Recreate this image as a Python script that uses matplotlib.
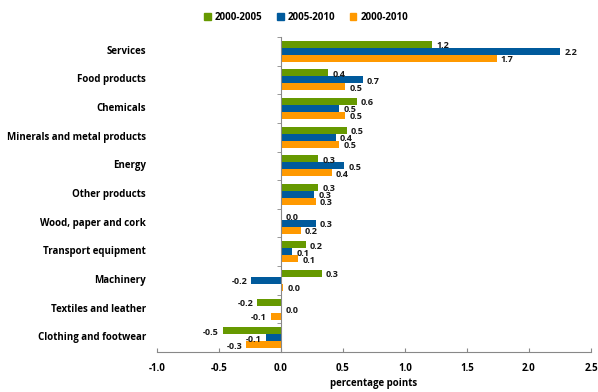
import numpy as np
import matplotlib
matplotlib.use('Agg')
from matplotlib import pyplot as plt
from matplotlib.patches import Patch
from matplotlib.transforms import blended_transform_factory

plt.rcParams['font.family'] = ['Open Sans', 'DejaVu Sans']
plt.rcParams['font.weight'] = 'bold'

# sectors, top to bottom
sectors = ['Services', 'Food products', 'Chemicals', 'Minerals and metal products',
           'Energy', 'Other products', 'Wood, paper and cork', 'Transport equipment',
           'Machinery', 'Textiles and leather', 'Clothing and footwear']

# contributions (percentage points)
p2000_2005 = [1.22, 0.38, 0.61, 0.53, 0.30, 0.30, 0.005, 0.20, 0.33, -0.19, -0.47]
p2005_2010 = [2.25, 0.66, 0.47, 0.44, 0.51, 0.27, 0.28, 0.09, -0.24, 0.0, -0.12]
p2000_2010 = [1.74, 0.52, 0.52, 0.47, 0.41, 0.28, 0.16, 0.14, 0.016, -0.08, -0.28]

series = ['2000-2005', '2005-2010', '2000-2010']
colors = ['#669900', '#005A9C', '#FF9900']
values = [p2000_2005, p2005_2010, p2000_2010]

fig = plt.figure(figsize=(5.98, 3.92), dpi=100)
ax = fig.add_axes([157/598, 1-352/392, 434/598, 315/392])

y = np.arange(len(sectors))
h = 0.245
for k in range(3):
    pos = y + (k-1)*h
    ax.barh(pos, values[k], height=h, color=colors[k], edgecolor='none')
    for yy, v in zip(pos, values[k]):
        lab = '%.1f' % v
        if v < 0:
            ax.annotate(lab, (v, yy), xytext=(-3, -1), textcoords='offset points',
                        ha='right', va='center', fontsize=6.5, fontweight='bold', color='#1a1a1a')
        else:
            ax.annotate(lab, (v, yy), xytext=(3, -1), textcoords='offset points',
                        ha='left', va='center', fontsize=6.5, fontweight='bold', color='#1a1a1a')

ax.set_xlim(-1.0, 2.5)
ax.set_ylim(len(sectors)-0.5, -0.5)
ax.set_xticks(np.arange(-1.0, 2.51, 0.5))
ax.set_xticklabels(['%.1f' % t for t in np.arange(-1.0, 2.51, 0.5)], fontsize=7, fontweight='bold')
ax.tick_params(axis='x', direction='in', length=3, color='#888888', pad=8)
ax.set_xlabel('percentage points', fontsize=7, fontweight='bold', labelpad=3)

ax.set_yticks([])
ax.set_yticks(np.arange(-0.5, len(sectors), 1.0), minor=True)
ax.tick_params(axis='y', which='minor', direction='out', length=3, color='#888888')
ax.spines['left'].set_position(('data', 0))
ax.spines['left'].set_color('#888888')
ax.spines['bottom'].set_color('#888888')
ax.spines['top'].set_visible(False)
ax.spines['right'].set_visible(False)

tr = blended_transform_factory(ax.transAxes, ax.transData)
for i, s in enumerate(sectors):
    ax.text(-11/434, i, s, transform=tr, ha='right', va='center', fontsize=7, fontweight='bold')

handles = [Patch(color=c) for c in colors]
fig.legend(handles, series, loc='center', bbox_to_anchor=(306/598, 1-17/392), ncol=3,
           frameon=False, handlelength=0.7, handleheight=0.7,
           handletextpad=0.4, columnspacing=1.5, prop={'weight': 'bold', 'size': 7})

fig.savefig('out.png', dpi=100)
